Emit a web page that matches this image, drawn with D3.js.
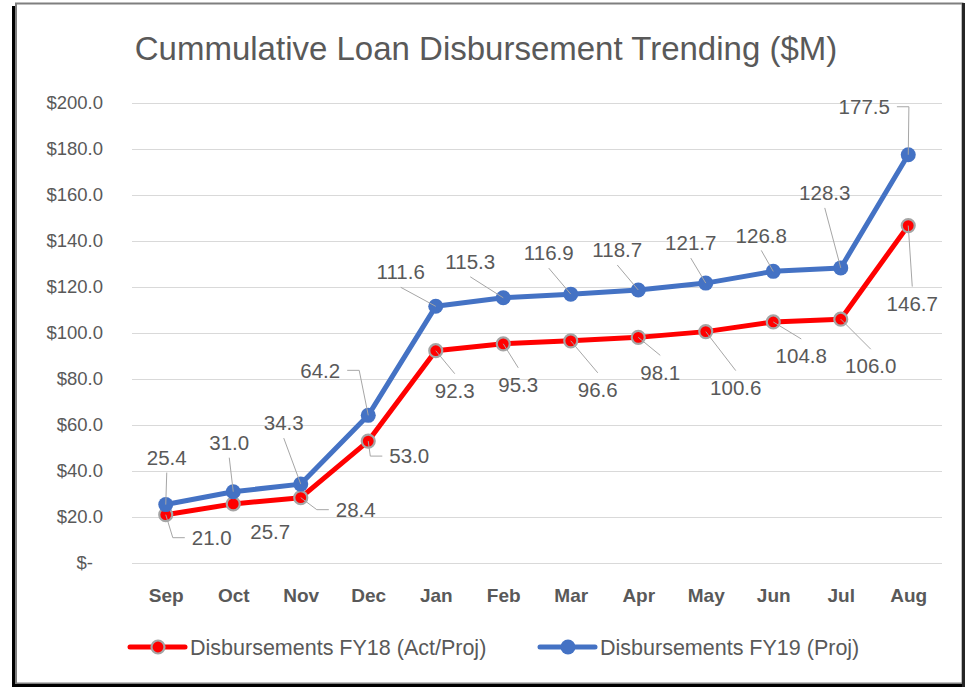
<!DOCTYPE html>
<html>
<head>
<meta charset="utf-8">
<script src="https://cdn.jsdelivr.net/npm/d3@7"></script>
<style>
  html, body { margin: 0; padding: 0; background: #ffffff; }
  svg { display: block; }
  text { font-family: "Liberation Sans", Arial, sans-serif; }
</style>
</head>
<body>
<svg id="chart" width="972" height="687"></svg>
<script>
// ---- Data ----
const months = ["Sep","Oct","Nov","Dec","Jan","Feb","Mar","Apr","May","Jun","Jul","Aug"];
const fy18 = [21.0, 25.7, 28.4, 53.0, 92.3, 95.3, 96.6, 98.1, 100.6, 104.8, 106.0, 146.7];
const fy19 = [25.4, 31.0, 34.3, 64.2, 111.6, 115.3, 116.9, 118.7, 121.7, 126.8, 128.3, 177.5];
const yTicks = [0, 20, 40, 60, 80, 100, 120, 140, 160, 180, 200];
const seriesNames = ["Disbursements FY18 (Act/Proj)", "Disbursements FY19 (Proj)"];
const titleText = "Cummulative Loan Disbursement Trending ($M)";

// ---- Layout of data labels (pixel offsets from point, leader flag) ----
const fy18LabelDx = [46, 37, 55, 41, 19, 15, 27, 22, 30, 28, 30, 4];
const fy18LabelDy = [23, 28, 12, 15, 40, 41, 49, 35, 56, 34, 47, 78];
const fy18Leader  = [1, 0, 1, 1, 1, 1, 1, 1, 1, 1, 1, 1];
const fy19LabelDx = [1, -4, -17, -48, -35, -33, -22, -21, -15, -12, -16, -44];
const fy19LabelDy = [-47, -49, -61, -45, -34, -36, -41, -40, -40, -36, -75, -48];
const fy19Leader  = [1, 1, 1, 1, 1, 1, 1, 1, 1, 1, 1, 1];

const plot = {left: 132, right: 942, top: 103, bottom: 563};
const svg = d3.select("#chart");

// frame
svg.append("rect").attr("x", 16).attr("y", 3.5).attr("width", 946.5).attr("height", 680)
  .attr("fill", "#ffffff").attr("stroke", "#7f7f7f").attr("stroke-width", 2);
svg.append("line").attr("x1", 13.5).attr("x2", 13.5).attr("y1", 6).attr("y2", 686)
  .attr("stroke", "#000").attr("stroke-width", 3);
svg.append("line").attr("x1", 12).attr("x2", 965).attr("y1", 685.5).attr("y2", 685.5)
  .attr("stroke", "#000").attr("stroke-width", 3);
svg.append("line").attr("x1", 963.5).attr("x2", 963.5).attr("y1", 3).attr("y2", 687)
  .attr("stroke", "#262626").attr("stroke-width", 3);

const x = d3.scalePoint().domain(months).range([plot.left, plot.right]).padding(0.5);
const y = d3.scaleLinear().domain([0, 200]).range([plot.bottom, plot.top]);

// title
svg.append("text").attr("x", 486).attr("y", 48).attr("text-anchor", "middle")
  .attr("dominant-baseline", "central")
  .attr("font-size", 33).attr("fill", "#595959").text(titleText);

// gridlines + y axis
const yAxis = d3.axisLeft(y).tickValues(yTicks).tickSize(-(plot.right - plot.left)).tickPadding(29)
  .tickFormat(d => d === 0 ? "$-" : "$" + d3.format(".1f")(d));
const gy = svg.append("g").attr("transform", `translate(${plot.left},0)`).call(yAxis);
gy.select(".domain").remove();
gy.selectAll(".tick line").attr("stroke", "#d9d9d9").attr("stroke-width", 1);
gy.selectAll(".tick text").attr("fill", "#595959").attr("font-size", 18.5)
  .attr("font-family", "Liberation Sans, Arial, sans-serif")
  .attr("x", d => d === 0 ? -39 : -29);

// x axis labels
const xAxis = d3.axisBottom(x).tickSize(0).tickPadding(0);
const gx = svg.append("g").attr("transform", `translate(0,${plot.bottom})`).call(xAxis);
gx.select(".domain").remove();
gx.selectAll(".tick text").attr("fill", "#595959").attr("font-size", 19).attr("font-weight", "bold")
  .attr("font-family", "Liberation Sans, Arial, sans-serif")
  .attr("y", 32).attr("dy", "0.35em");

const series = [
  {name: seriesNames[0], values: fy18, color: "#FF0000", r: 6.5, ring: "#A5A5A5",
   dx: fy18LabelDx, dy: fy18LabelDy, leader: fy18Leader},
  {name: seriesNames[1], values: fy19, color: "#4472C4", r: 7.5, ring: null,
   dx: fy19LabelDx, dy: fy19LabelDy, leader: fy19Leader}
];

const line = d3.line().x((d, i) => x(months[i])).y(d => y(d));

series.forEach(s => {
  svg.append("path").datum(s.values).attr("d", line).attr("fill", "none")
    .attr("stroke", s.color).attr("stroke-width", 5).attr("stroke-linejoin", "round")
    .attr("stroke-linecap", "round");
  svg.append("g").selectAll("circle").data(s.values).join("circle")
    .attr("cx", (d, i) => x(months[i])).attr("cy", d => y(d)).attr("r", s.r)
    .attr("fill", s.color)
    .attr("stroke", s.ring || "none").attr("stroke-width", s.ring ? 2.2 : 0);
});

// data labels with leader lines
const labelLayer = svg.append("g");
const leaderLayer = svg.append("g");
series.forEach(s => {
  s.values.forEach((v, i) => {
    const px = x(months[i]), py = y(v);
    const lx = px + s.dx[i], ly = py + s.dy[i];
    const t = labelLayer.append("text").attr("x", lx).attr("y", ly)
      .attr("text-anchor", "middle").attr("dy", "0.35em")
      .attr("font-size", 20.5).attr("fill", "#595959").text(d3.format(".1f")(v));
    if (!s.leader[i]) return;
    const w = t.node().getComputedTextLength();
    let pts;
    if (Math.abs(s.dx[i]) > 40) {
      const side = s.dx[i] > 0 ? -1 : 1;
      const ax = lx + side * (w / 2 + 7);
      const sx = ax + side * 12;
      pts = [[ax, ly], [sx, ly], [px, py]];
    } else {
      const ay = ly + (s.dy[i] < 0 ? 15 : -17);
      pts = [[lx, ay], [px, py]];
    }
    leaderLayer.append("path").attr("d", d3.line()(pts)).attr("fill", "none")
      .attr("stroke", "#a6a6a6").attr("stroke-width", 1);
  });
});

// legend
const legendItems = [
  {s: series[0], x0: 130},
  {s: series[1], x0: 540}
];
const lg = svg.append("g");
legendItems.forEach(it => {
  const ly = 647;
  lg.append("line").attr("x1", it.x0).attr("x2", it.x0 + 55).attr("y1", ly).attr("y2", ly)
    .attr("stroke", it.s.color).attr("stroke-width", 5).attr("stroke-linecap", "round");
  lg.append("circle").attr("cx", it.x0 + 28).attr("cy", ly).attr("r", it.s.r)
    .attr("fill", it.s.color).attr("stroke", it.s.ring || "none").attr("stroke-width", it.s.ring ? 2.2 : 0);
  lg.append("text").attr("x", it.x0 + 60).attr("y", ly).attr("dy", "0.35em")
    .attr("font-size", 21.5).attr("fill", "#595959").text(it.s.name);
});
</script>
</body>
</html>
